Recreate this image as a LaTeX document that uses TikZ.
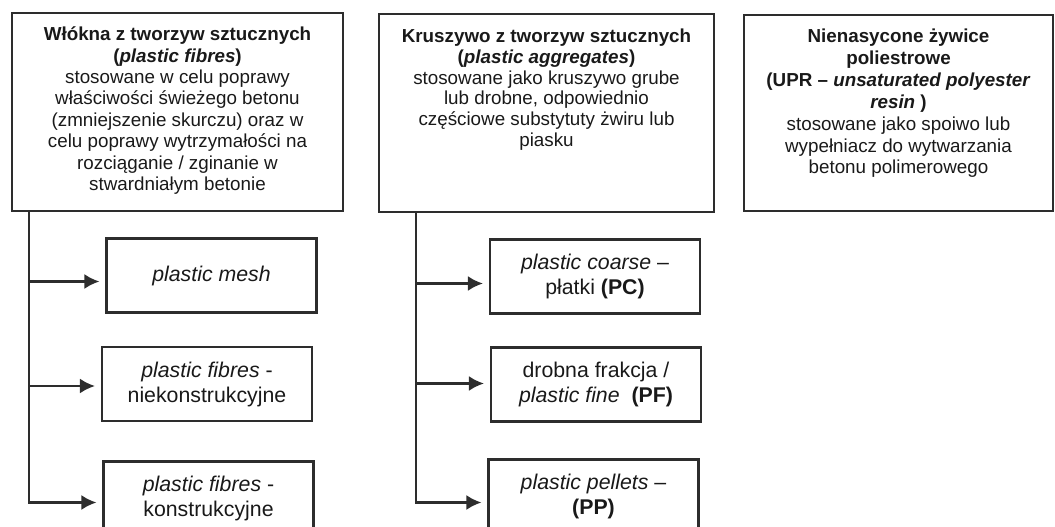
\documentclass[tikz,border=0pt]{standalone}
\usepackage{fontspec}
\setmainfont{Liberation Sans}
\usetikzlibrary{arrows.meta, positioning}
\definecolor{myline}{RGB}{45,45,45}
\definecolor{mytext}{RGB}{25,25,25}

\begin{document}
\begin{tikzpicture}[x=1bp, y=-1bp,
  topbox/.style={draw=myline, line width=2.5bp, inner sep=0pt, minimum height=198bp},
  toptext/.style={align=center, inner sep=0pt, text=mytext},
  subbox/.style={draw=myline, line width=2.2bp, inner sep=0pt, minimum width=210bp,
    minimum height=74bp, align=center, text=mytext, font=\fontsize{21.3bp}{25bp}\selectfont},
  branch/.style={draw=myline, line width=2.2bp, -{Latex[length=15bp,width=15bp]}, shorten >=6bp}
]
\useasboundingbox (0,0) rectangle (1055,527);
\clip (0,0) rectangle (1055,527);

% three main groups
\node[topbox, minimum width=331bp] (fibres) at (177.5,112) {};
\node[topbox, minimum width=335bp] (aggr) at (546.5,113) {};
\node[topbox, minimum width=309bp, minimum height=196bp] (resin) at (898.5,113) {};

\node[toptext, below=15bp of fibres.north, font=\fontsize{18.8bp}{21.4bp}\selectfont] (fibrestxt)
  {\textbf{Włókna z tworzyw sztucznych}\\
   \textbf{(\textit{plastic fibres})}\\
   stosowane w celu poprawy\\
   właściwości świeżego betonu\\
   (zmniejszenie skurczu) oraz w\\
   celu poprawy wytrzymałości na\\
   rozciąganie / zginanie w\\
   stwardniałym betonie};
\node[toptext, below=16bp of aggr.north, font=\fontsize{18.8bp}{20.8bp}\selectfont] (aggrtxt)
  {\textbf{Kruszywo z tworzyw sztucznych}\\
   \textbf{(\textit{plastic aggregates})}\\
   stosowane jako kruszywo grube\\
   lub drobne, odpowiednio\\
   częściowe substytuty żwiru lub\\
   piasku};
\node[toptext, below=15bp of resin.north, font=\fontsize{18.8bp}{21.9bp}\selectfont] (resintxt)
  {\textbf{Nienasycone żywice}\\
   \textbf{poliestrowe}\\
   \textbf{(UPR – \textit{unsaturated polyester}}\\
   \textbf{\textit{resin} )}\\
   stosowane jako spoiwo lub\\
   wypełniacz do wytwarzania\\
   betonu polimerowego};

% fibre types
\node[subbox] (mesh) at (211.5,275.5) {\textit{plastic mesh}};
\node[subbox] (nonstruct) at (207,384) {\textit{plastic fibres} -\\niekonstrukcyjne};
\node[subbox] (struct) at (208.5,498.5) {\textit{plastic fibres} -\\konstrukcyjne};

% aggregate types
\node[subbox] (coarse) at (595,276.5) {\textit{plastic coarse} –\\płatki \textbf{(PC)}};
\node[subbox] (fine) at (596,384.5) {drobna frakcja /\\\textit{plastic fine}~~\textbf{(PF)}};
\node[subbox] (pellets) at (593.5,496.5) {\textit{plastic pellets} –\\\textbf{(PP)}};

\coordinate (forkA) at ([xshift=18bp]fibres.south west);
\coordinate (forkB) at ([xshift=38bp]aggr.south west);

\draw[branch] (forkA) |- ([yshift=-6bp]mesh.west);
\draw[branch] (forkA) |- ([yshift=-2bp]nonstruct.west);
\draw[branch] (forkA) |- ([yshift=-4bp]struct.west);

\draw[branch] (forkB) |- ([yshift=-7bp]coarse.west);
\draw[branch] (forkB) |- ([yshift=1bp]fine.west);
\draw[branch] (forkB) |- ([yshift=-6bp]pellets.west);
\end{tikzpicture}
\end{document}
